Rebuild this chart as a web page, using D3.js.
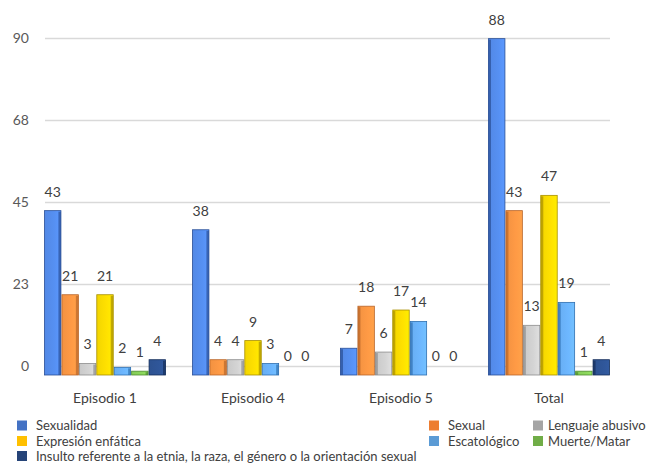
<!DOCTYPE html>
<html><head><meta charset="utf-8">
<script src="https://cdn.jsdelivr.net/npm/d3@7"></script>
<style>
html,body{margin:0;padding:0;background:#fff;}
svg{display:block;font-family:Lato,"Open Sans",sans-serif;}
</style></head>
<body><svg id="c" width="651" height="463"></svg>
<script>
const categories = ["Episodio 1","Episodio 4","Episodio 5","Total"];
const series = ["Sexualidad","Sexual","Lenguaje abusivo","Expresión enfática","Escatológico","Muerte/Matar","Insulto referente a la etnia, la raza, el género o la orientación sexual"];
const sexualidad = [43,38,7,88];
const sexual = [21,4,18,43];
const lenguajeAbusivo = [3,4,6,13];
const expresionEnfatica = [21,9,17,47];
const escatologico = [2,3,14,19];
const muerteMatar = [1,0,0,1];
const insulto = [4,0,0,4];
const seriesValues = [sexualidad,sexual,lenguajeAbusivo,expresionEnfatica,escatologico,muerteMatar,insulto];
const tickValues = [0,22.5,45,67.5,90];
const tickLabels = ["0","23","45","68","90"];

const barColors = ["#5690F2","#FF9A45","#D4D4D4","#FFE100","#6DB7FF","#8BD65C","#2F5699"];
const edgeColors = ["#2A4F96","#B8652A","#8C8C8C","#A88F00","#2F6FB0","#4C8A2E","#152E5A"];
const legendColors = ["#4472C4","#ED7D31","#A5A5A5","#FFC000","#5B9BD5","#70AD47","#264478"];

const svg = d3.select("#c");
const defs = svg.append("defs");
barColors.forEach((c,i)=>{
  const g = defs.append("linearGradient").attr("id","g"+i).attr("x1","0").attr("x2","1").attr("y1","0").attr("y2","0");
  g.append("stop").attr("offset","0").attr("stop-color",d3.color(c).darker(0.15));
  g.append("stop").attr("offset","0.6").attr("stop-color",c);
  g.append("stop").attr("offset","1").attr("stop-color",d3.color(c).brighter(0.15));
});

const x0 = d3.scaleBand().domain(categories).range([31,623]).paddingInner(26/148).paddingOuter(13/148);
const x1 = d3.scaleBand().domain(d3.range(series.length)).range([0,x0.bandwidth()]);
const yGrid = d3.scaleLinear().domain([0,90]).range([366.5,38.5]);
const yBar = d3.scaleLinear().domain([0,90]).range([375,31]);

// gridlines
svg.append("g").selectAll("line").data(tickValues).join("line")
  .attr("x1",45).attr("x2",610)
  .attr("y1",d=>yGrid(d)).attr("y2",d=>yGrid(d))
  .attr("stroke","#d9d9d9").attr("stroke-width",1.5);
svg.append("g").selectAll("text").data(tickValues).join("text")
  .attr("x",29).attr("y",d=>yGrid(d)).attr("dy","0.35em")
  .attr("text-anchor","end").attr("font-size",14).attr("fill","#595959")
  .text((d,i)=>tickLabels[i]);

// bars
const groups = svg.append("g").selectAll("g").data(categories).join("g")
  .attr("transform",c=>`translate(${x0(c)},0)`);
groups.each(function(c,ci){
  const g = d3.select(this);
  const data = seriesValues.map((arr,si)=>({si,v:arr[ci]}));
  g.selectAll("rect.bar").data(data.filter(d=>d.v>0)).join("rect").attr("class","bar")
    .attr("x",d=>x1(d.si)+0.5).attr("width",x1.bandwidth()-1)
    .attr("y",d=>yBar(d.v)).attr("height",d=>yBar(0)-yBar(d.v))
    .attr("fill",d=>`url(#g${d.si})`).attr("stroke",d=>edgeColors[d.si]).attr("stroke-width",0.8);
  // side face
  g.selectAll("rect.side").data(data.filter(d=>d.v>0)).join("rect").attr("class","side")
    .attr("x",d=> ci<2 ? x1(d.si)+x1.bandwidth()-3 : x1(d.si)+0.5)
    .attr("width",2.5)
    .attr("y",d=>yBar(d.v)+1).attr("height",d=>Math.max(0,yBar(0)-yBar(d.v)-1))
    .attr("fill",d=>edgeColors[d.si]).attr("opacity",0.7);
  g.selectAll("text").data(data).join("text")
    .attr("x",d=>x1(d.si)+x1.bandwidth()/2).attr("y",d=>yBar(d.v)-19).attr("dy","0.35em")
    .attr("text-anchor","middle").attr("font-size",14).attr("fill","#404040")
    .text(d=>d.v);
});

// category labels
svg.append("g").selectAll("text").data(categories).join("text")
  .attr("x",c=>x0(c)+x0.bandwidth()/2).attr("y",398).attr("dy","0.35em")
  .attr("text-anchor","middle").attr("font-size",14).attr("fill","#404040")
  .text(c=>c);

// legend
const colSq = [17,429,533], colTx = [36,448,548], rowY = [425.5,441,456];
const leg = svg.append("g").selectAll("g").data(series).join("g")
  .attr("transform",(d,i)=>`translate(0,${rowY[Math.floor(i/3)]})`);
leg.append("rect").attr("x",(d,i)=>colSq[i%3]).attr("y",-5).attr("width",10).attr("height",10)
  .attr("fill",(d,i)=>legendColors[i]);
leg.append("text").attr("x",(d,i)=>colTx[i%3]).attr("dy","0.35em")
  .attr("font-size",13).attr("fill","#404040").text(d=>d);
</script></body></html>
